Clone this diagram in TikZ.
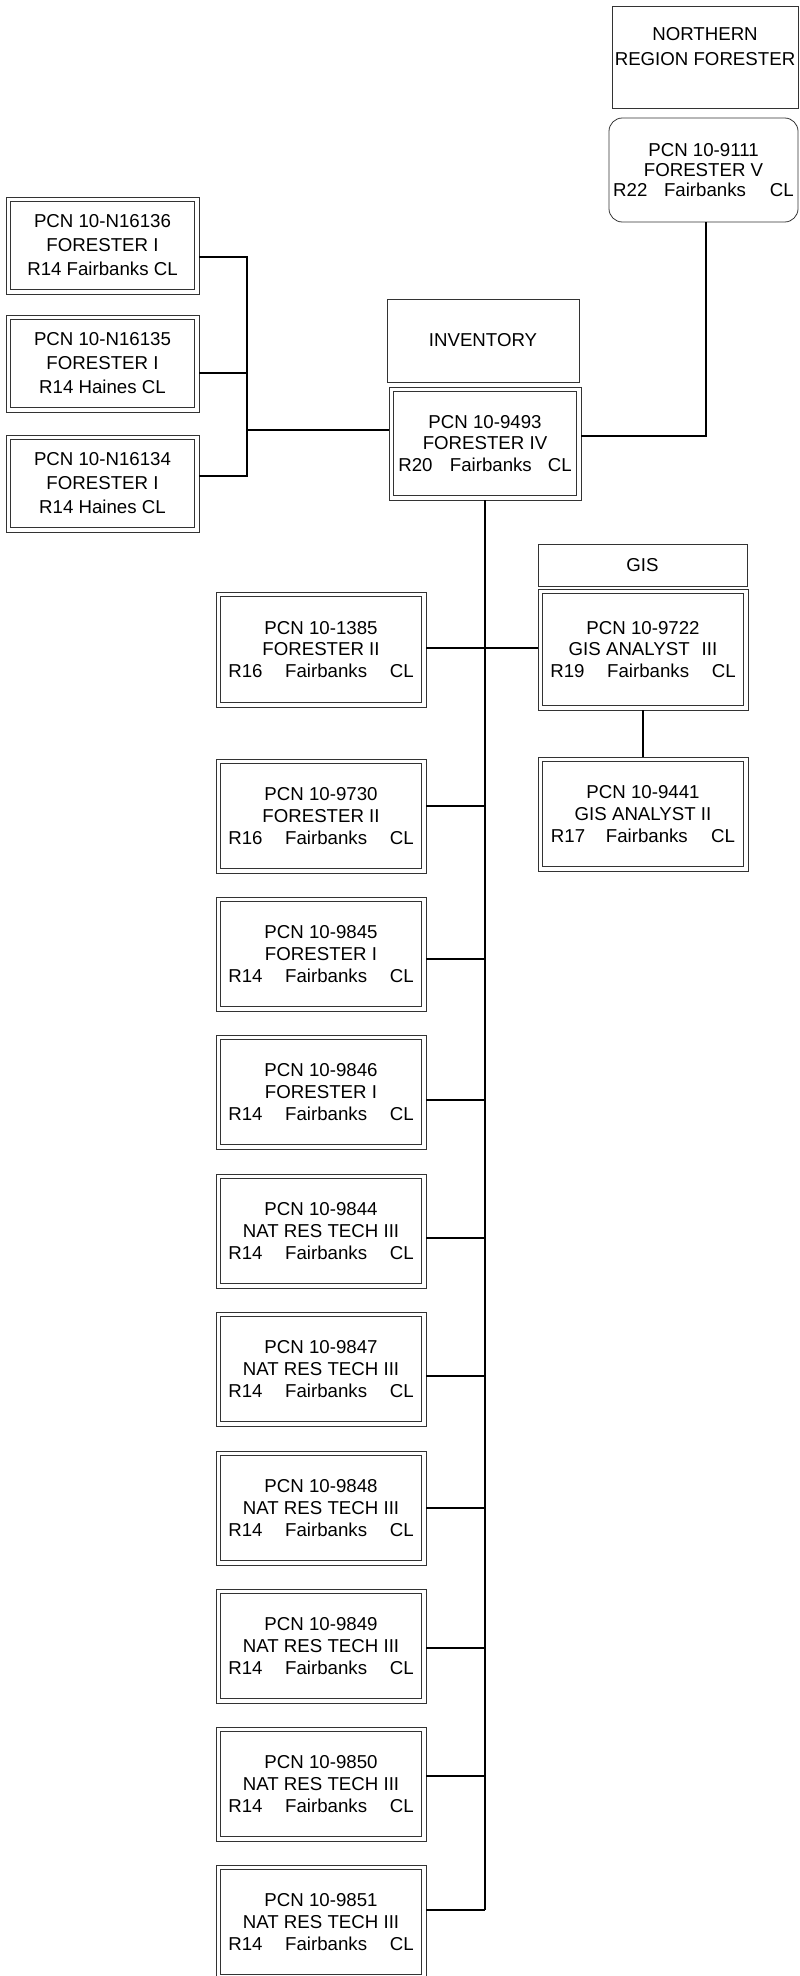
\documentclass[tikz,border=0pt]{standalone}
\usepackage{fontspec}
\setmainfont{Liberation Sans}
\tikzset{
  box/.style={draw=black!80, line width=0.6pt, inner sep=0pt, align=center, font=\fontsize{14}{16.4}\selectfont},
  colbox/.style={box, minimum width=157.5pt, minimum height=85.5pt},
  lbox/.style={box, font=\fontsize{14}{18}\selectfont, minimum width=144.75pt, minimum height=72.75pt},
  txt/.style={inner sep=0pt, align=center},
  conn/.style={draw=black, line width=0.95pt},
  innerframe/.style={draw=black!80, line width=0.6pt}
}
\begin{document}
\begin{tikzpicture}[x=0.75pt,y=-0.75pt]
\useasboundingbox (0,0) rectangle (799,1976);

% top right
\node[box, minimum width=139.5pt, minimum height=76.5pt] (north) at (705,57) {};
\node[txt, font=\fontsize{14}{18.75}\selectfont] (northtxt) at (705,47) {NORTHERN\\REGION FORESTER};
\node[box, minimum width=141.75pt, minimum height=78pt, rounded corners=10pt, font=\fontsize{14}{15}\selectfont] (p9111) at (703.5,170)
  {PCN 10-9111\\FORESTER V\\R22\hspace{12.5pt}Fairbanks\hspace{18pt}CL};

% left cluster
\node[lbox] (n16136) at (102.5,245.5) {PCN 10-N16136\\FORESTER I\\R14 Fairbanks CL};
\node[lbox] (n16135) at (102.5,363.5) {PCN 10-N16135\\FORESTER I\\R14 Haines CL};
\node[lbox] (n16134) at (102.5,483.5) {PCN 10-N16134\\FORESTER I\\R14 Haines CL};

% inventory
\node[box, minimum width=144pt, minimum height=62.25pt] (inv) at (483,340.5) {INVENTORY};
\node[box, minimum width=144pt, minimum height=84.75pt] (p9493) at (485,443.5) {PCN 10-9493\\FORESTER IV\\R20\hspace{13pt}Fairbanks\hspace{12pt}CL};

% GIS
\node[box, minimum width=156.75pt, minimum height=31.5pt] (gis) at (642.5,565) {GIS};
\node[box, minimum width=157.5pt, minimum height=90.75pt] (p9722) at (643,649.5) {PCN 10-9722\\GIS ANALYST\hspace{9pt}III\\R19\hspace{17pt}Fairbanks\hspace{17pt}CL};
\node[colbox] (p9441) at (643,814) {PCN 10-9441\\GIS ANALYST II\\R17\hspace{15.5pt}Fairbanks\hspace{17.5pt}CL};

% column
\node[colbox, minimum height=86.25pt] (p1385) at (321,649.5) {PCN 10-1385\\FORESTER II\\R16\hspace{17pt}Fairbanks\hspace{17pt}CL};
\node[colbox] (p9730) at (321,816) {PCN 10-9730\\FORESTER II\\R16\hspace{17pt}Fairbanks\hspace{17pt}CL};
\node[colbox] (p9845) at (321,954) {PCN 10-9845\\FORESTER I\\R14\hspace{17pt}Fairbanks\hspace{17pt}CL};
\node[colbox] (p9846) at (321,1092) {PCN 10-9846\\FORESTER I\\R14\hspace{17pt}Fairbanks\hspace{17pt}CL};
\node[colbox] (p9844) at (321,1231) {PCN 10-9844\\NAT RES TECH III\\R14\hspace{17pt}Fairbanks\hspace{17pt}CL};
\node[colbox] (p9847) at (321,1369) {PCN 10-9847\\NAT RES TECH III\\R14\hspace{17pt}Fairbanks\hspace{17pt}CL};
\node[colbox] (p9848) at (321,1508) {PCN 10-9848\\NAT RES TECH III\\R14\hspace{17pt}Fairbanks\hspace{17pt}CL};
\node[colbox] (p9849) at (321,1646) {PCN 10-9849\\NAT RES TECH III\\R14\hspace{17pt}Fairbanks\hspace{17pt}CL};
\node[colbox] (p9850) at (321,1784) {PCN 10-9850\\NAT RES TECH III\\R14\hspace{17pt}Fairbanks\hspace{17pt}CL};
\node[colbox] (p9851) at (321,1922) {PCN 10-9851\\NAT RES TECH III\\R14\hspace{17pt}Fairbanks\hspace{17pt}CL};

% inner frames of double boxes
\foreach \n in {n16136,n16135,n16134,p9493,p9722,p9441,p1385,p9730,p9845,p9846,p9844,p9847,p9848,p9849,p9850,p9851}
  \draw[innerframe] ([shift={(3.5pt,3.5pt)}]\n.south west) rectangle ([shift={(-3.5pt,-3.5pt)}]\n.north east);

% left cluster connectors
\coordinate (jL) at (247,430);
\coordinate (j16136) at (247,257);
\coordinate (j16135) at (247,373);
\coordinate (j16134) at (247,476);
\draw[conn] (n16136.east |- j16136) -- (j16136) -- (j16134) -- (n16134.east |- j16134);
\draw[conn] (n16135.east |- j16135) -- (j16135);
\draw[conn] (p9493.west |- jL) -- (jL);

% to northern region forester
\coordinate (jR) at (706,436);
\draw[conn] (p9493.east |- jR) -- (jR) -- (jR |- p9111.south);

% main bus
\coordinate (b1385) at (485,648);
\coordinate (b9730) at (485,806);
\coordinate (b9845) at (485,959);
\coordinate (b9846) at (485,1100);
\coordinate (b9844) at (485,1238);
\coordinate (b9847) at (485,1376);
\coordinate (b9848) at (485,1508);
\coordinate (b9849) at (485,1648);
\coordinate (b9850) at (485,1776);
\coordinate (b9851) at (485,1910);
\draw[conn] (p9493.south) -- (b9851);
\draw[conn] (p1385.east |- b1385) -- (p9722.west |- b1385);
\foreach \n in {9730,9845,9846,9844,9847,9848,9849,9850,9851}
  \draw[conn] (p\n.east |- b\n) -- (b\n);

% GIS link
\draw[conn] (p9722.south) -- (p9441.north);
\end{tikzpicture}
\end{document}
